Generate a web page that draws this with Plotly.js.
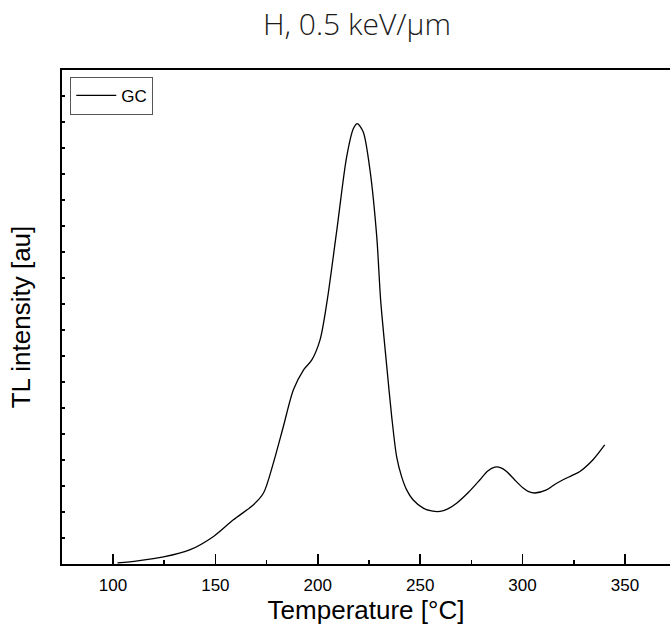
<!DOCTYPE html>
<html>
<head>
<meta charset="utf-8">
<script src="https://cdn.plot.ly/plotly-3.0.1.min.js"></script>
<style>html,body{margin:0;padding:0;overflow:hidden;background:#fff}</style>
</head>
<body>
<div id="chart" style="width:670px;height:637px"></div>
<script>
const seriesName = "GC";
const temperature = [102.2, 112, 124.7, 137.7, 149.1, 158.8, 168.6, 173.5, 178.3, 183.2, 188.1, 193.0, 197.1, 201.1, 204.4, 209.3, 214.1, 217.4, 219.3, 222.2, 225.5, 228.8, 230.7, 233.7, 236.1, 238.5, 240.9, 243.4, 246.5, 251.5, 255.5, 259.7, 263.5, 267.8, 273.5, 279.2, 283.0, 286.5, 289.5, 292.2, 296.0, 300.3, 303.0, 306.0, 311.7, 315.5, 319.8, 324.0, 328.0, 334.4, 340.1];
const intensity = [0.04, 0.12, 0.27, 0.55, 1.06, 1.70, 2.28, 2.73, 3.88, 5.29, 6.70, 7.46, 7.85, 8.62, 10.03, 12.84, 15.66, 16.75, 16.94, 16.62, 15.15, 12.59, 10.15, 7.59, 5.67, 4.13, 3.37, 2.85, 2.47, 2.15, 2.04, 2.02, 2.12, 2.34, 2.75, 3.24, 3.58, 3.73, 3.70, 3.56, 3.25, 2.92, 2.78, 2.73, 2.85, 3.05, 3.24, 3.40, 3.56, 4.01, 4.58];
const xTicks = [100, 150, 200, 250, 300, 350];

const trace = {
  x: temperature, y: intensity, type: 'scatter', mode: 'lines', name: seriesName,
  line: {color: '#000', width: 1.3, shape: 'spline', smoothing: 0.8}
};

const layout = {
  width: 670, height: 637,
  margin: {l: 62, r: 0, t: 70, b: 73},
  paper_bgcolor: '#fff', plot_bgcolor: '#fff',
  font: {family: 'Liberation Sans, Arial, sans-serif', color: '#000', size: 16},
  title: {text: 'H, 0.5 keV/μm', font: {family: 'Open Sans', size: 30, weight: 300, color: '#1a1a1a'},
          x: 357/670, xref: 'container', xanchor: 'center', y: 1 - 24/637, yref: 'container', yanchor: 'middle'},
  showlegend: true,
  legend: {x: 0.0136, y: 0.986, xanchor: 'left', yanchor: 'top', bordercolor: '#555', borderwidth: 1,
           bgcolor: '#fff', font: {size: 17, family: 'Liberation Sans, Arial, sans-serif'},
           itemwidth: 40, tracegroupgap: 0},
  xaxis: {
    range: [75.1, 372], tickvals: xTicks, ticktext: xTicks.map(String),
    ticks: 'inside', ticklen: 10, tickwidth: 1.5, tickcolor: '#000',
    minor: {dtick: 25, tick0: 0, ticks: 'inside', ticklen: 4, tickwidth: 1.5, tickcolor: '#000'},
    showline: true, linecolor: '#000', linewidth: 2, mirror: true,
    showgrid: false, zeroline: false,
    tickfont: {size: 17}, ticklabelstandoff: 5,
    title: {text: 'Temperature [°C]', font: {size: 26}, standoff: 6}
  },
  yaxis: {
    range: [0, 19], dtick: 1, tick0: 0, showticklabels: false,
    ticks: 'inside', ticklen: 3, tickwidth: 1.5, tickcolor: '#000',
    showline: true, linecolor: '#000', linewidth: 2,
    showgrid: false, zeroline: false,
    title: {text: 'TL intensity [au]', font: {size: 26}, standoff: 22}
  }
};

Plotly.newPlot('chart', [trace], layout, {displayModeBar: false, staticPlot: true});
</script>
</body>
</html>
